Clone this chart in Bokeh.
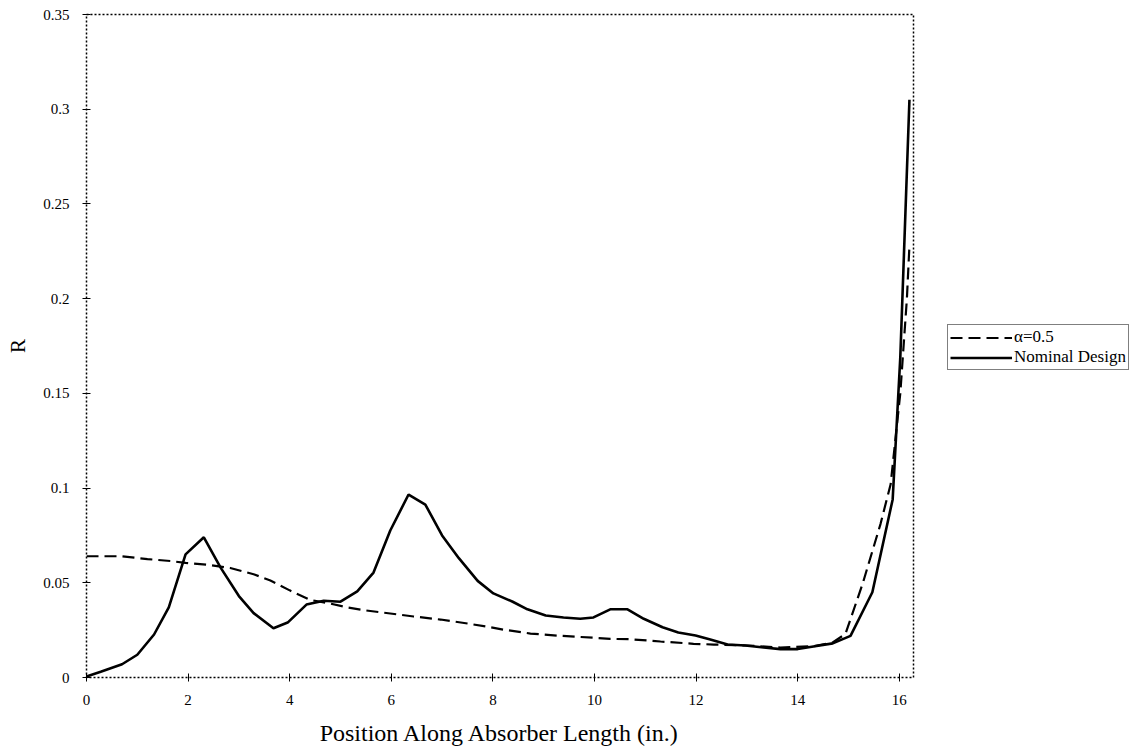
from bokeh.plotting import figure
from bokeh.models import FixedTicker, Legend, LegendItem, Range1d
from bokeh.embed import file_html
from bokeh.resources import INLINE

# ---- data ----
nominal_x = [0, 0.28, 0.7, 1.0, 1.33, 1.62, 1.95, 2.31, 2.64, 3.0, 3.29, 3.68, 3.96, 4.33,
             4.67, 5.0, 5.33, 5.65, 5.98, 6.34, 6.67, 7.0, 7.33, 7.7, 8.01, 8.39, 8.68, 9.04,
             9.39, 9.72, 9.98, 10.31, 10.65, 10.97, 11.34, 11.65, 11.99, 12.28, 12.62, 12.97,
             13.33, 13.66, 14.0, 14.31, 14.69, 15.04, 15.47, 15.87, 16.02, 16.2]
nominal_y = [0.0005, 0.003, 0.007, 0.012, 0.0227, 0.037, 0.065, 0.074, 0.058, 0.043, 0.034,
             0.026, 0.029, 0.0385, 0.0405, 0.040, 0.0455, 0.0554, 0.0776, 0.0966, 0.0913,
             0.075, 0.063, 0.051, 0.0444, 0.040, 0.036, 0.0327, 0.0317, 0.031, 0.0317, 0.036,
             0.036, 0.031, 0.0265, 0.0238, 0.0222, 0.020, 0.0174, 0.0169, 0.0158, 0.0150,
             0.0150, 0.0164, 0.018, 0.022, 0.045, 0.094, 0.169, 0.305]

alpha_x = [0, 0.7, 1.2, 1.65, 1.95, 2.38, 2.83, 3.29, 3.62, 4.0, 4.4, 4.8, 5.13, 5.5, 5.98,
           6.44, 6.97, 7.5, 7.89, 8.2, 8.74, 9.33, 9.98, 10.31, 10.7, 11.3, 11.95, 12.35,
           13.0, 13.66, 14.31, 14.69, 14.94, 15.28, 15.63, 15.83, 16.02, 16.15, 16.2]
alpha_y = [0.064, 0.064, 0.0625, 0.0615, 0.0605, 0.0595, 0.0578, 0.0545, 0.0512, 0.046,
           0.041, 0.039, 0.037, 0.0354, 0.0338, 0.0322, 0.0306, 0.0285, 0.0268, 0.0253,
           0.0232, 0.022, 0.021, 0.0204, 0.0202, 0.019, 0.0178, 0.0174, 0.0169, 0.0158,
           0.0165, 0.0185, 0.023, 0.0496, 0.081, 0.102, 0.15, 0.2, 0.228]

x_ticks = [0, 2, 4, 6, 8, 10, 12, 14, 16]
x_tick_labels = ["0", "2", "4", "6", "8", "10", "12", "14", "16"]
y_ticks = [0, 0.05, 0.1, 0.15, 0.2, 0.25, 0.3, 0.35]
y_tick_labels = ["0", "0.05", "0.1", "0.15", "0.2", "0.25", "0.3", "0.35"]

series_labels = ["\u03b1=0.5", "Nominal Design"]
x_title = "Position Along Absorber Length (in.)"
y_title = "R"

FONT = "Liberation Serif"

p = figure(frame_width=827, frame_height=663, output_backend="svg", toolbar_location=None,
           x_range=Range1d(0, 16.28), y_range=Range1d(0, 0.35),
           min_border_left=86, min_border_top=14, min_border_bottom=65, min_border_right=5)

p.background_fill_color = "white"
p.border_fill_color = "white"
p.outline_line_color = "black"
p.outline_line_dash = "2 2"
p.outline_line_width = 1.5
p.grid.visible = False

r_alpha = p.line(alpha_x, alpha_y, line_color="black", line_width=2.2, line_dash="12 6")
r_nom = p.line(nominal_x, nominal_y, line_color="black", line_width=2.6)

for ax in (p.xaxis[0], p.yaxis[0]):
    ax.axis_line_color = None
    ax.major_tick_line_color = "black"
    ax.major_tick_in = 4
    ax.major_tick_out = 4
    ax.minor_tick_line_color = None
    ax.major_label_text_font = FONT
    ax.major_label_text_font_size = "15px"
    ax.major_label_text_color = "black"
    ax.axis_label_text_font = FONT
    ax.axis_label_text_font_style = "normal"
    ax.axis_label_text_color = "black"

p.xaxis.ticker = FixedTicker(ticks=x_ticks)
p.xaxis.major_label_overrides = dict(zip(x_ticks, x_tick_labels))
p.xaxis.major_label_standoff = 13
p.xaxis.axis_label = x_title
p.xaxis.axis_label_text_font_size = "24px"
p.xaxis.axis_label_standoff = 12

p.yaxis.ticker = FixedTicker(ticks=y_ticks)
p.yaxis.major_label_overrides = dict(zip(y_ticks, y_tick_labels))
p.yaxis.major_label_standoff = 13
p.yaxis.axis_label = y_title
p.yaxis.axis_label_text_font_size = "21px"
p.yaxis.axis_label_standoff = 10

legend = Legend(items=[LegendItem(label=series_labels[0], renderers=[r_alpha]),
                       LegendItem(label=series_labels[1], renderers=[r_nom])],
                location=(34, 307))
legend.border_line_color = "black"
legend.border_line_width = 1
legend.background_fill_color = "white"
legend.background_fill_alpha = 1
legend.padding = 2
legend.spacing = 0
legend.margin = 0
legend.glyph_width = 62
legend.glyph_height = 19
legend.label_standoff = 2
legend.label_text_font = FONT
legend.label_text_font_size = "17px"
legend.label_text_color = "black"
legend.label_height = 19
p.add_layout(legend, "right")

open("out.html", "w").write(file_html(p, INLINE))
